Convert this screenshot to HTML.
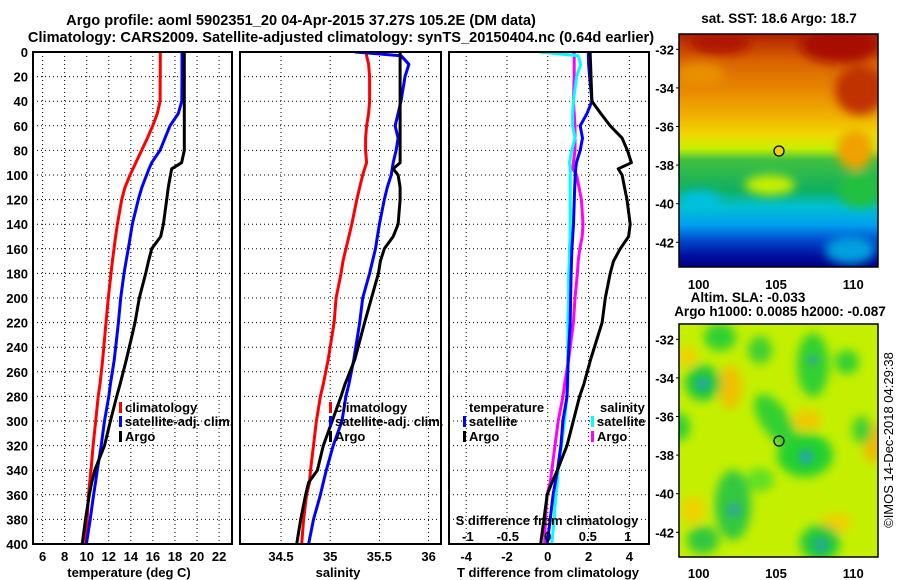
<!DOCTYPE html>
<html><head><meta charset="utf-8"><style>
html,body{margin:0;padding:0;background:#fff;}
svg{display:block;font-family:"Liberation Sans",sans-serif;font-weight:bold;}
</style></head><body>
<svg id="fig" width="900" height="580" viewBox="0 0 900 580">
<defs>
<clipPath id="c1"><rect x="33" y="52" width="199" height="492"/></clipPath>
<clipPath id="c2"><rect x="240" y="52" width="201" height="492"/></clipPath>
<clipPath id="c3"><rect x="449" y="52" width="200" height="492"/></clipPath>
<clipPath id="m1"><rect x="679" y="34" width="199" height="233"/></clipPath>
<clipPath id="m2"><rect x="679" y="324" width="199" height="233"/></clipPath>
<linearGradient id="sst" x1="0" y1="34" x2="0" y2="267" gradientUnits="userSpaceOnUse">
<stop offset="0" stop-color="#b02000"/><stop offset="0.11" stop-color="#d86000"/>
<stop offset="0.24" stop-color="#e88800"/><stop offset="0.35" stop-color="#f0b000"/>
<stop offset="0.43" stop-color="#f0d800"/><stop offset="0.49" stop-color="#c8f000"/>
<stop offset="0.54" stop-color="#40c040"/><stop offset="0.67" stop-color="#10b060"/>
<stop offset="0.74" stop-color="#00c0d0"/><stop offset="0.82" stop-color="#00a0f0"/>
<stop offset="0.88" stop-color="#0050d0"/><stop offset="0.95" stop-color="#0010a0"/>
<stop offset="1" stop-color="#000080"/></linearGradient>
<filter id="bl" x="-20%" y="-20%" width="140%" height="140%"><feGaussianBlur stdDeviation="5"/></filter>
<filter id="bl2" x="-20%" y="-20%" width="140%" height="140%"><feGaussianBlur stdDeviation="3"/></filter>
</defs>
<text x="301" y="25" text-anchor="middle" font-size="14.6">Argo profile: aoml 5902351_20 04-Apr-2015 37.27S 105.2E (DM data)</text>
<text x="341" y="42" text-anchor="middle" font-size="14.6">Climatology: CARS2009. Satellite-adjusted climatology: synTS_20150404.nc (0.64d earlier)</text>
<g id="grid"></g>
<g id="lines"></g>
<g id="frames"></g>
<g id="labels" font-size="13"></g>

<g clip-path="url(#m1)">
<rect x="679" y="34" width="199" height="233" fill="url(#sst)"/>
<g filter="url(#bl)">
<ellipse cx="720" cy="42" rx="30" ry="12" fill="#b01800"/>
<ellipse cx="840" cy="45" rx="40" ry="18" fill="#a81000"/>
<ellipse cx="860" cy="90" rx="25" ry="25" fill="#c03000"/>
<ellipse cx="700" cy="75" rx="25" ry="12" fill="#e89000"/>
<ellipse cx="860" cy="190" rx="22" ry="18" fill="#20c040"/>
<ellipse cx="855" cy="150" rx="18" ry="20" fill="#f0a000"/>
<ellipse cx="770" cy="185" rx="25" ry="10" fill="#c8f000"/>
<ellipse cx="850" cy="250" rx="25" ry="14" fill="#00a0e0"/>
<ellipse cx="700" cy="200" rx="20" ry="10" fill="#00c0e0"/>
</g></g>
<rect x="679" y="34" width="199" height="233" fill="none" stroke="#000" stroke-width="1.5"/>
<circle cx="779" cy="151" r="5" fill="#f0d000" stroke="#000" stroke-width="1.3"/>

<g clip-path="url(#m2)">
<rect x="679" y="324" width="199" height="233" fill="#c4f000"/>
<g filter="url(#bl)">
<ellipse cx="730" cy="387" rx="12" ry="22" fill="#f0c000"/>
<ellipse cx="807" cy="420" rx="15" ry="10" fill="#f0c800"/>
<ellipse cx="873" cy="443" rx="10" ry="20" fill="#f0b800"/>
<ellipse cx="693" cy="510" rx="12" ry="14" fill="#f0d000"/>
<ellipse cx="837" cy="523" rx="15" ry="10" fill="#f0d000"/>
<ellipse cx="687" cy="357" rx="10" ry="10" fill="#f0d000"/>
<ellipse cx="703" cy="383" rx="18" ry="18" fill="#20c840"/>
<ellipse cx="813" cy="365" rx="16" ry="32" fill="#30d030"/>
<ellipse cx="805" cy="455" rx="28" ry="22" fill="#20d030"/>
<ellipse cx="775" cy="420" rx="14" ry="30" fill="#30d030" transform="rotate(-35 775 420)"/>
<ellipse cx="733" cy="505" rx="18" ry="35" fill="#30c840"/>
<ellipse cx="820" cy="543" rx="20" ry="18" fill="#20c840"/>
<ellipse cx="703" cy="540" rx="16" ry="14" fill="#30c840"/>
<ellipse cx="720" cy="337" rx="16" ry="14" fill="#30d030"/>
<ellipse cx="847" cy="362" rx="12" ry="12" fill="#30d030"/>
<ellipse cx="760" cy="350" rx="12" ry="14" fill="#40d030"/>
<ellipse cx="680" cy="427" rx="10" ry="14" fill="#30d030"/>
<ellipse cx="862" cy="430" rx="10" ry="14" fill="#40d030"/>
<ellipse cx="760" cy="480" rx="14" ry="12" fill="#60e020"/>
</g>
<g filter="url(#bl2)">
<circle cx="703" cy="384" r="7" fill="#20b090"/>
<circle cx="806" cy="457" r="8" fill="#20b090"/>
<circle cx="813" cy="360" r="6" fill="#30b870"/>
<circle cx="734" cy="510" r="8" fill="#30b080"/>
<circle cx="821" cy="545" r="8" fill="#20b080"/>
</g></g>
<rect x="679" y="324" width="199" height="233" fill="none" stroke="#000" stroke-width="1.5"/>
<circle cx="779" cy="441" r="5" fill="none" stroke="#000" stroke-width="1.3"/>

<text x="779" y="23" text-anchor="middle" font-size="13.5">sat. SST: 18.6 Argo: 18.7</text>
<text x="748" y="302" text-anchor="middle" font-size="13.5">Altim. SLA: -0.033</text>
<text x="780" y="316" text-anchor="middle" font-size="13.5">Argo h1000: 0.0085 h2000: -0.087</text>
<text transform="translate(893,440) rotate(-90)" text-anchor="middle" font-size="13" font-weight="normal">©IMOS 14-Dec-2018 04:29:38</text>
</svg>
<script>
const depths=[0,3,10,20,40,50,60,70,80,90,95,100,110,120,140,150,160,170,180,200,220,250,270,280,300,320,340,350,360,380,400];
const tempClim=[16.67,16.67,16.67,16.66,16.65,16.4,15.98,15.5,14.98,14.45,14.2,13.92,13.47,13.17,12.78,12.62,12.47,12.33,12.2,11.96,11.75,11.45,11.2,11.04,10.81,10.58,10.39,10.27,10.16,10.04,9.89];
const tempSat=[18.64,18.64,18.64,18.64,18.62,18.3,17.55,17.1,16.64,15.89,15.65,15.43,15.0,14.68,14.13,13.95,13.77,13.57,13.38,13.08,12.87,12.5,12.15,12.0,11.61,11.31,10.96,10.8,10.62,10.32,9.97];
const tempArgo=[18.85,18.85,18.85,18.85,18.85,18.85,18.85,18.85,18.85,18.6,17.7,17.6,17.4,17.25,16.95,16.71,15.89,15.6,15.35,14.77,14.38,13.6,13.03,12.72,12.15,11.61,10.73,10.45,10.23,9.89,9.59];
const salClim=[35.37,35.37,35.39,35.40,35.40,35.39,35.37,35.36,35.36,35.37,35.35,35.33,35.30,35.27,35.22,35.19,35.16,35.13,35.11,35.06,35.04,34.98,34.93,34.90,34.86,34.83,34.80,34.79,34.76,34.73,34.71];
const salSat=[35.25,35.72,35.80,35.76,35.72,35.69,35.66,35.69,35.67,35.64,35.63,35.62,35.58,35.55,35.50,35.48,35.46,35.43,35.40,35.33,35.30,35.24,35.19,35.16,35.12,35.03,34.96,34.93,34.90,34.83,34.78];
const salArgo=[35.71,35.71,35.71,35.71,35.71,35.71,35.71,35.71,35.71,35.71,35.64,35.69,35.71,35.71,35.69,35.64,35.55,35.51,35.49,35.42,35.35,35.25,35.15,35.11,35.02,34.93,34.87,34.78,34.75,34.70,34.66];
const tDiffArgo=[2.08,2.08,2.1,2.12,2.16,2.6,3.06,3.64,3.9,4.1,3.45,3.64,3.76,3.88,4.04,3.96,3.55,3.22,3.06,2.82,2.66,2.1,1.77,1.56,1.25,0.94,0.47,0.2,-0.03,-0.19,-0.35];
const tDiffSat=[1.99,1.99,2.0,2.05,2.16,1.92,1.59,1.7,1.59,1.4,1.37,1.35,1.32,1.3,1.26,1.22,1.18,1.16,1.14,1.12,1.1,1.0,0.96,0.94,0.74,0.64,0.47,0.37,0.26,0.12,-0.03];
const sDiffSat=[-0.1,0.38,0.41,0.36,0.32,0.31,0.31,0.34,0.30,0.27,0.28,0.28,0.28,0.28,0.28,0.28,0.27,0.27,0.26,0.26,0.25,0.25,0.25,0.24,0.21,0.17,0.13,0.12,0.10,0.08,0.05];
const sDiffArgo=[0.33,0.33,0.33,0.33,0.32,0.33,0.34,0.34,0.34,0.32,0.31,0.36,0.39,0.42,0.44,0.43,0.40,0.38,0.37,0.34,0.32,0.26,0.21,0.19,0.13,0.09,0.05,0.03,-0.01,-0.03,-0.04];
const depthTicks=[0,20,40,60,80,100,120,140,160,180,200,220,240,260,280,300,320,340,360,380,400];
const tempTicks=[6,8,10,12,14,16,18,20,22];
const salTicks=[34.5,35,35.5,36];
const tDiffTicks=[-4,-2,0,2,4];
const sDiffTicks=[-1,-0.5,0,0.5,1];
const latTicks=[-32,-34,-36,-38,-40,-42];
const lonTicks=[100,105,110];

const NS='http://www.w3.org/2000/svg';
function mk(tag,attrs,parent){const e=document.createElementNS(NS,tag);for(const k in attrs)e.setAttribute(k,attrs[k]);parent.appendChild(e);return e;}
const yD=d=>52+d*1.23;
const xT=t=>42.6+(t-6)*11.03;
const xS=s=>281+(s-34.5)*98.4;
const xTd=t=>547.8+t*20.4;
const xSd=s=>547.8+s*80;
const yLat1=l=>49.3+(-l-32)*19.3;
const yLat2=l=>339.3+(-l-32)*19.3;
const xLon=l=>698.7+(l-100)*15.46;

const G=document.getElementById('grid'),L=document.getElementById('lines'),F=document.getElementById('frames'),T=document.getElementById('labels');
const panels=[{x0:33,x1:232,clip:'c1',ticks:tempTicks,fx:xT,name:'temperature'},{x0:240,x1:441,clip:'c2',ticks:salTicks,fx:xS,name:'salinity'},{x0:449,x1:649,clip:'c3',ticks:tDiffTicks,fx:xTd,name:'difference'}];
panels.forEach(p=>{
  depthTicks.forEach(d=>{const l=mk('line',{x1:p.x0,x2:p.x1,y1:yD(d),y2:yD(d),stroke:'#000','stroke-width':1,'stroke-dasharray':'1,3'},G);
    
    });
  p.ticks.forEach(v=>{const l=mk('line',{x1:p.fx(v),x2:p.fx(v),y1:52,y2:544,stroke:'#000','stroke-width':1,'stroke-dasharray':'1,3'},G);
    
    });
  const r=mk('rect',{x:p.x0,y:52,width:p.x1-p.x0,height:492,fill:'none',stroke:'#000','stroke-width':2},F);
  
  
});
function series(vals,fx,color,clip,name){
  const pts=vals.map((v,i)=>fx(v).toFixed(1)+','+yD(depths[i]).toFixed(1)).join(' ');
  const pl=mk('polyline',{points:pts,fill:'none',stroke:color,'stroke-width':3,'stroke-linejoin':'round','clip-path':'url(#'+clip+')'},L);
  
  
}
series(tempClim,xT,'#ff0000','c1','temp-climatology-line');
series(tempSat,xT,'#0000ff','c1','temp-satellite-line');
series(tempArgo,xT,'#000000','c1','temp-argo-line');
series(salClim,xS,'#ff0000','c2','sal-climatology-line');
series(salSat,xS,'#0000ff','c2','sal-satellite-line');
series(salArgo,xS,'#000000','c2','sal-argo-line');
series(sDiffArgo,xSd,'#ff00ff','c3','s-diff-argo-line');
series(sDiffSat,xSd,'#00ffff','c3','s-diff-satellite-line');
series(tDiffSat,xTd,'#0000ff','c3','t-diff-satellite-line');
series(tDiffArgo,xTd,'#000000','c3','t-diff-argo-line');

function txt(x,y,s,anchor,name,size){const t=mk('text',{x:x,y:y,'text-anchor':anchor||'start'},T);if(size)t.setAttribute('font-size',size);t.textContent=s;
  
  return t;}
depthTicks.forEach(d=>txt(28,yD(d)+5,String(d),'end','depth-tick-label'));
tempTicks.forEach(v=>txt(xT(v),561,String(v),'middle','temp-tick-label'));
salTicks.forEach(v=>txt(xS(v),561,String(v),'middle','sal-tick-label'));
tDiffTicks.forEach(v=>txt(xTd(v),561,String(v),'middle','t-diff-tick-label'));
sDiffTicks.forEach(v=>txt(xSd(v),541,String(v),'middle','s-diff-tick-label'));
txt(129,577,'temperature (deg C)','middle','temperature-axis-title');
txt(338,577,'salinity','middle','salinity-axis-title');
txt(548,577,'T difference from climatology','middle','t-diff-axis-title');
txt(547,525,'S difference from climatology','middle','s-diff-axis-title');
latTicks.forEach(l=>{txt(674,yLat1(l)+5,String(l),'end','sst-lat-label');txt(674,yLat2(l)+5,String(l),'end','sla-lat-label');
  [yLat1(l),yLat2(l)].forEach(y=>{const a=mk('line',{x1:676,x2:679,y1:y,y2:y,stroke:'#000'},F);
    
    });});
lonTicks.forEach(l=>{txt(xLon(l),289,String(l),'middle','sst-lon-label');txt(xLon(l),578,String(l),'middle','sla-lon-label');});
function leg(x,y,color,label,name){const r=mk('rect',{x:x,y:y-10,width:3,height:11,fill:color},T);
  
  
  txt(x+6,y,label,'start',name);}
leg(119,412,'#ff0000','climatology','legend-temp-climatology');
leg(119,426,'#0000ff','satellite-adj. clim.','legend-temp-satellite');
leg(119,441,'#000000','Argo','legend-temp-argo');
leg(329,412,'#ff0000','climatology','legend-sal-climatology');
leg(329,426,'#0000ff','satellite-adj. clim.','legend-sal-satellite');
leg(329,441,'#000000','Argo','legend-sal-argo');
txt(469,412,'temperature','start','legend-temperature-heading');
leg(463,426,'#0000ff','satellite','legend-t-diff-satellite');
leg(463,441,'#000000','Argo','legend-t-diff-argo');
txt(600,412,'salinity','start','legend-salinity-heading');
leg(591,426,'#00ffff','satellite','legend-s-diff-satellite');
leg(591,441,'#ff00ff','Argo','legend-s-diff-argo');
</script>
</body></html>
